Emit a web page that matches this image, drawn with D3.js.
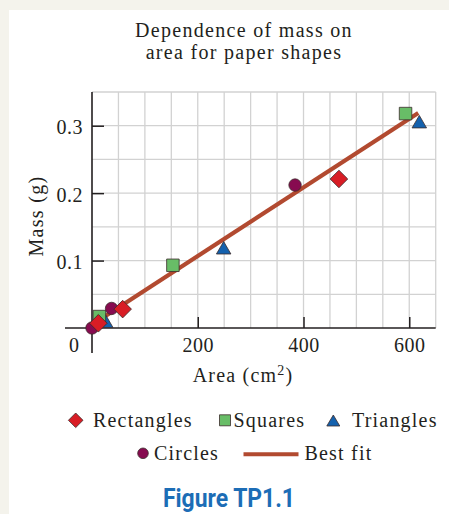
<!DOCTYPE html>
<html>
<head>
<meta charset="utf-8">
<script src="https://cdn.jsdelivr.net/npm/d3@7"></script>
<style>
  body { margin: 0; background: #f4f3ec; }
  svg { display: block; }
  text { font-family: "Liberation Serif", "Times New Roman", serif; fill: #231f20; }
</style>
</head>
<body>
<svg width="449" height="514"></svg>
<script>
// data (area in cm^2, mass in g)
var rectArea = [12, 58, 467];
var rectMass = [0.007, 0.028, 0.221];
var squareArea = [14, 153, 593];
var squareMass = [0.017, 0.093, 0.318];
var triArea = [26, 249, 619];
var triMass = [0.010, 0.119, 0.306];
var circleArea = [0, 37, 384];
var circleMass = [0.000, 0.029, 0.212];
var fitArea = [8, 617];
var fitMass = [0.009, 0.319];

var xTicks = [200, 400, 600];
var yTicks = [0.1, 0.2, 0.3];

var svg = d3.select("svg");

// white panel
svg.append("rect")
    .attr("x", 9).attr("y", 10)
    .attr("width", 440).attr("height", 504)
    .attr("fill", "#fff");

var x = d3.scaleLinear().domain([0, 650]).range([92, 435.7]);
var y = d3.scaleLinear().domain([0, 0.35]).range([328, 92]);

// title
var title = svg.append("text")
    .attr("text-anchor", "middle")
    .style("font-size", "20px")
    .style("letter-spacing", "1.3px");
title.append("tspan").attr("x", 244).attr("y", 37).text("Dependence of mass on");
title.append("tspan").attr("x", 244).attr("y", 59).text("area for paper shapes");

// grid
var grid = svg.append("g")
    .attr("stroke", "#d2d2d2")
    .attr("stroke-width", 1.3);

grid.selectAll("line.v")
    .data(d3.range(50, 651, 50))
  .enter().append("line")
    .attr("x1", d => x(d)).attr("x2", d => x(d))
    .attr("y1", y(0)).attr("y2", y(0.35));

grid.selectAll("line.h")
    .data(d3.range(1, 8).map(i => i * 0.05))
  .enter().append("line")
    .attr("x1", x(0)).attr("x2", x(650))
    .attr("y1", d => y(d)).attr("y2", d => y(d));

// axes
var xAxis = svg.append("g")
    .attr("transform", "translate(0," + y(0) + ")")
    .call(d3.axisBottom(x).tickValues(xTicks).tickSize(-11).tickPadding(10));
xAxis.select(".domain").remove();
xAxis.selectAll(".tick line").attr("stroke", "#231f20").attr("stroke-width", 1.5);
xAxis.selectAll(".tick text")
    .attr("y", 23.7).attr("dy", null)
    .style("font-family", "Liberation Serif")
    .style("font-size", "20px")
    .style("letter-spacing", "0.5px")
    .attr("fill", "#231f20");

var yAxis = svg.append("g")
    .attr("transform", "translate(" + x(0) + ",0)")
    .call(d3.axisLeft(y).tickValues(yTicks).tickSize(-12).tickPadding(9).tickFormat(d3.format(".1f")));
yAxis.select(".domain").remove();
yAxis.selectAll(".tick line").attr("stroke", "#231f20").attr("stroke-width", 1.5);
yAxis.selectAll(".tick text")
    .attr("dy", "0.4em")
    .style("font-family", "Liberation Serif")
    .style("font-size", "20px")
    .style("letter-spacing", "0.5px")
    .attr("fill", "#231f20");

svg.append("line")
    .attr("x1", 65).attr("x2", x(650))
    .attr("y1", y(0)).attr("y2", y(0))
    .attr("stroke", "#231f20").attr("stroke-width", 1.6);
svg.append("line")
    .attr("x1", x(0)).attr("x2", x(0))
    .attr("y1", y(0.35)).attr("y2", 353)
    .attr("stroke", "#231f20").attr("stroke-width", 1.6);

svg.append("text")
    .attr("x", 74).attr("y", 352)
    .attr("text-anchor", "middle")
    .style("font-size", "20px")
    .text("0");

// axis titles
var xt = svg.append("text")
    .attr("x", 243).attr("y", 382)
    .attr("text-anchor", "middle")
    .style("font-size", "20px")
    .style("letter-spacing", "1.2px");
xt.append("tspan").text("Area (cm");
xt.append("tspan").attr("dy", -7).style("font-size", "14px").text("2");
xt.append("tspan").attr("dy", 7).text(")");

svg.append("text")
    .attr("transform", "translate(43,216) rotate(-90)")
    .attr("text-anchor", "middle")
    .style("font-size", "20px")
    .style("letter-spacing", "1.3px")
    .text("Mass (g)");

// best fit line
svg.append("path")
    .datum(d3.zip(fitArea, fitMass))
    .attr("fill", "none")
    .attr("stroke", "#b24a30")
    .attr("stroke-width", 4.2)
    .attr("d", d3.line().x(d => x(d[0])).y(d => y(d[1])));

// marker shapes
function diamond(r) { return "M0," + (-r) + "L" + r + ",0L0," + r + "L" + (-r) + ",0Z"; }
function square(s) { var h = s / 2; return "M" + (-h) + "," + (-h) + "H" + h + "V" + h + "H" + (-h) + "Z"; }
function triangle(w, h) { return "M0," + (-h / 2) + "L" + (w / 2) + "," + (h / 2) + "L" + (-w / 2) + "," + (h / 2) + "Z"; }

var stroke = "#3b2b2b";

function drawSeries(xs, ys, pathD, fill) {
  svg.append("g").selectAll("path")
      .data(d3.zip(xs, ys))
    .enter().append("path")
      .attr("transform", d => "translate(" + x(d[0]) + "," + y(d[1]) + ")")
      .attr("d", pathD)
      .attr("fill", fill)
      .attr("stroke", stroke)
      .attr("stroke-width", 0.8);
}

drawSeries(triArea, triMass, triangle(14.5, 12.5), "#1461ad");
drawSeries(squareArea, squareMass, square(12.5), "#68bd67");
svg.append("g").selectAll("circle")
    .data(d3.zip(circleArea, circleMass))
  .enter().append("circle")
    .attr("cx", d => x(d[0])).attr("cy", d => y(d[1]))
    .attr("r", 6.2)
    .attr("fill", "#870b50")
    .attr("stroke", stroke)
    .attr("stroke-width", 0.8);
drawSeries(rectArea, rectMass, diamond(8.8), "#d81d25");

// legend
var leg = svg.append("g");
function legMarker(cx, cy, d, fill) {
  leg.append("path")
      .attr("transform", "translate(" + cx + "," + cy + ")")
      .attr("d", d).attr("fill", fill)
      .attr("stroke", stroke).attr("stroke-width", 0.8);
}
function legText(tx, ty, s) {
  leg.append("text")
      .attr("x", tx).attr("y", ty)
      .style("font-size", "20px")
      .style("letter-spacing", "1.2px")
      .text(s);
}
legMarker(75.7, 420.3, diamond(7.3), "#d81d25");
legText(93, 427, "Rectangles");
legMarker(225, 420.3, square(11), "#68bd67");
legText(233.5, 427, "Squares");
legMarker(333.3, 420.5, triangle(13, 11), "#1461ad");
legText(352, 427, "Triangles");

leg.append("circle")
    .attr("cx", 143).attr("cy", 453.3).attr("r", 5.3)
    .attr("fill", "#870b50").attr("stroke", stroke).attr("stroke-width", 0.8);
legText(154, 460, "Circles");
leg.append("line")
    .attr("x1", 243.5).attr("x2", 298.5)
    .attr("y1", 454.3).attr("y2", 454.3)
    .attr("stroke", "#b24a30").attr("stroke-width", 4);
legText(304.5, 460, "Best fit");

// caption
svg.append("text")
    .attr("x", 163).attr("y", 507)
    .attr("textLength", 132)
    .attr("lengthAdjust", "spacingAndGlyphs")
    .style("font-family", "Roboto, 'Liberation Sans', sans-serif")
    .style("font-weight", "bold")
    .style("font-size", "26px")
    .style("fill", "#1c6db6")
    .text("Figure TP1.1");
</script>
</body>
</html>
